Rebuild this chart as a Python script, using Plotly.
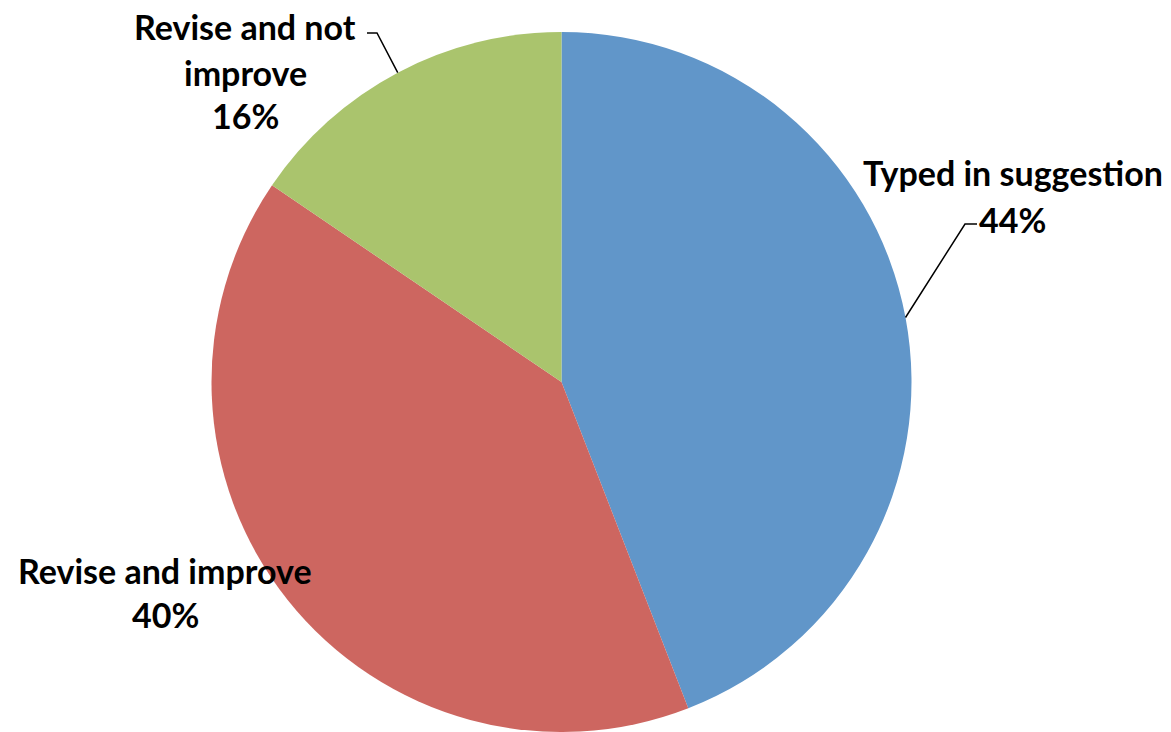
import math
import plotly.graph_objects as go

# ---- data ----
categories = ["Typed in suggestion", "Revise and improve", "Revise and not improve"]
values = [44.1, 40.4, 15.5]
label_lines = [["Typed in suggestion", "44%"],
               ["Revise and improve", "40%"],
               ["Revise and not", "improve", "16%"]]

# ---- style / layout ----
W, H = 1171, 732
colors = ["#6196C9", "#CD6660", "#AAC46D"]
cx, cy, R = 561.5, 382.0, 350.0   # pixel geometry of pie
font = dict(family="Lato, 'Open Sans', sans-serif", size=34, color="black")

# label placement (pixel centres of each line), and leader elbows
label_pos = [
    [(1013, 172), (1012, 219)],
    [(165, 570), (165, 614)],
    [(245, 27), (245, 72), (245, 116)],
]
leader = [((965, 224), (977, 224)), None, ((377, 33), (367, 33))]

def px(x):
    return x / W

def py(y):
    return 1 - y / H

fig = go.Figure(go.Pie(
    labels=categories, values=values, sort=False, direction="clockwise",
    rotation=0, textinfo="none", hoverinfo="label+percent",
    marker=dict(colors=colors, line=dict(width=0)),
    domain=dict(x=[(cx - R) / W, (cx + R) / W], y=[(H - cy - R) / H, (H - cy + R) / H]),
    showlegend=False,
))

annotations = []
for lines, poss in zip(label_lines, label_pos):
    for t, (x, y) in zip(lines, poss):
        annotations.append(dict(text="<b>%s</b>" % t, x=px(x), y=py(y), xref="paper", yref="paper",
                                showarrow=False, xanchor="center", yanchor="middle", font=font))

shapes = []
total = sum(values)
cum = 0
for v, ld in zip(values, leader):
    mid = (cum + v / 2) / total * 2 * math.pi
    cum += v
    if ld is None:
        continue
    ex = cx + R * math.sin(mid)
    ey = cy - R * math.cos(mid)
    (e1x, e1y), (e2x, e2y) = ld
    path = "M %f %f L %f %f L %f %f" % (px(ex), py(ey), px(e1x), py(e1y), px(e2x), py(e2y))
    shapes.append(dict(type="path", path=path, xref="paper", yref="paper",
                       line=dict(color="black", width=1.5)))

fig.update_layout(width=W, height=H, margin=dict(l=0, r=0, t=0, b=0),
                  paper_bgcolor="white", plot_bgcolor="white",
                  annotations=annotations, shapes=shapes)
fig.write_html("out.html")
